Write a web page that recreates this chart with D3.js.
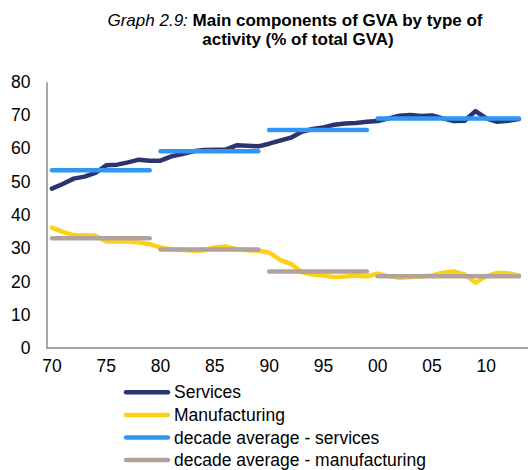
<!DOCTYPE html>
<html><head><meta charset="utf-8">
<script src="https://cdn.jsdelivr.net/npm/d3@7"></script>
<style>body{margin:0;background:#fff}svg{display:block}text{font-family:"Liberation Sans",Arial,sans-serif}</style>
</head><body><svg id="c" width="528" height="470"></svg>
<script>
const years = d3.range(1970, 2014);
const services = [47.9,49.3,50.9,51.5,52.6,54.9,55.1,55.8,56.6,56.3,
  56.3,57.6,58.3,59.1,59.5,59.6,59.6,60.9,60.8,60.6,
  61.4,62.3,63.2,65.0,65.8,66.3,67.1,67.5,67.6,68.0,
  68.2,69.0,69.8,70.0,69.7,69.9,69.0,68.2,68.3,71.2,69.0,68.0,68.3,68.8];
const manufacturing = [36.2,34.9,33.9,33.9,33.7,32.0,32.0,32.0,31.7,31.2,
  30.2,29.7,29.5,29.2,29.4,30.2,30.5,29.7,29.4,29.2,
  28.7,26.5,25.3,22.8,22.1,21.8,21.3,21.5,21.8,21.5,
  22.3,21.6,21.1,21.3,21.5,21.8,22.6,23.0,22.1,19.6,21.6,22.6,22.5,21.8];
const decadeStart = [1970, 1980, 1990, 2000];
const decadeEnd = [1979, 1989, 1999, 2013];
const decadeServices = [53.4, 59.1, 65.5, 69.0];
const decadeManufacturing = [33.0, 29.6, 23.0, 21.6];
const yTicks = [0,10,20,30,40,50,60,70,80];
const xTickYears = [1970,1975,1980,1985,1990,1995,2000,2005,2010];
const xTickLabels = ["70","75","80","85","90","95","00","05","10"];
const seriesNames = ["Services","Manufacturing","decade average - services","decade average - manufacturing"];
const colors = ["#2b346f","#fcd116","#2f97f2","#b1a39b"];

const svg = d3.select("#c");
const left = 46.5, band = 10.86;
const x = d3.scaleBand().domain(years).range([left, left + years.length*band]).padding(0);
const xc = yr => x(yr) + x.bandwidth()/2;
const y = d3.scaleLinear().domain([0,80]).range([348, 81.8]);

// title
const t = svg.append("text").attr("x", 295).attr("y", 25.5).attr("text-anchor","middle").style("font-size","17px");
t.append("tspan").style("font-style","italic").text("Graph 2.9: ");
t.append("tspan").style("font-weight","bold").text("Main components of GVA by type of");
svg.append("text").attr("x", 298).attr("y", 44.5).attr("text-anchor","middle").style("font-size","17px").style("font-weight","bold").text("activity (% of total GVA)");

// axes
const yAxis = svg.append("g").attr("transform",`translate(${left},0)`)
  .call(d3.axisLeft(y).tickValues(yTicks).tickSize(0).tickPadding(16).tickSizeOuter(0));
yAxis.select(".domain").attr("stroke","#8a8a8a").attr("stroke-width",1.5);
yAxis.selectAll("text").style("font-size","17.5px").attr("fill","#000").attr("font-family",null);

const xAxis = svg.append("g").attr("transform","translate(0,348)")
  .call(d3.axisBottom(x).tickValues(xTickYears).tickFormat((d,i)=>xTickLabels[i]).tickSize(0).tickPadding(12).tickSizeOuter(0));
xAxis.select(".domain").remove();
xAxis.append("line").attr("x1",left).attr("x2",528).attr("stroke","#8a8a8a").attr("stroke-width",1.5);
xAxis.selectAll("text").style("font-size","17.5px").attr("fill","#000").attr("font-family",null);

const line = d3.line().x((d,i)=>xc(years[i])).y(d=>y(d));
[services, manufacturing].forEach((s,k)=>{
  svg.append("path").datum(s).attr("d",line).attr("fill","none").attr("stroke",colors[k])
    .attr("stroke-width",4.5).attr("stroke-linejoin","round").attr("stroke-linecap","round");
});
[decadeServices, decadeManufacturing].forEach((s,k)=>{
  svg.append("g").selectAll("line").data(s).join("line")
    .attr("x1",(d,i)=>xc(decadeStart[i])).attr("x2",(d,i)=>xc(decadeEnd[i]))
    .attr("y1",d=>y(d)).attr("y2",d=>y(d))
    .attr("stroke",colors[k+2]).attr("stroke-width",4.5).attr("stroke-linecap","round");
});

// legend
const lg = svg.append("g");
seriesNames.forEach((n,i)=>{
  const yy = 392.3 + i*22.6;
  lg.append("line").attr("x1",126).attr("x2",168).attr("y1",yy).attr("y2",yy)
    .attr("stroke",colors[i]).attr("stroke-width",4.5).attr("stroke-linecap","round");
  lg.append("text").attr("x",174).attr("y",yy).attr("dy","0.35em").style("font-size","17.5px").text(n);
});
</script></body></html>
